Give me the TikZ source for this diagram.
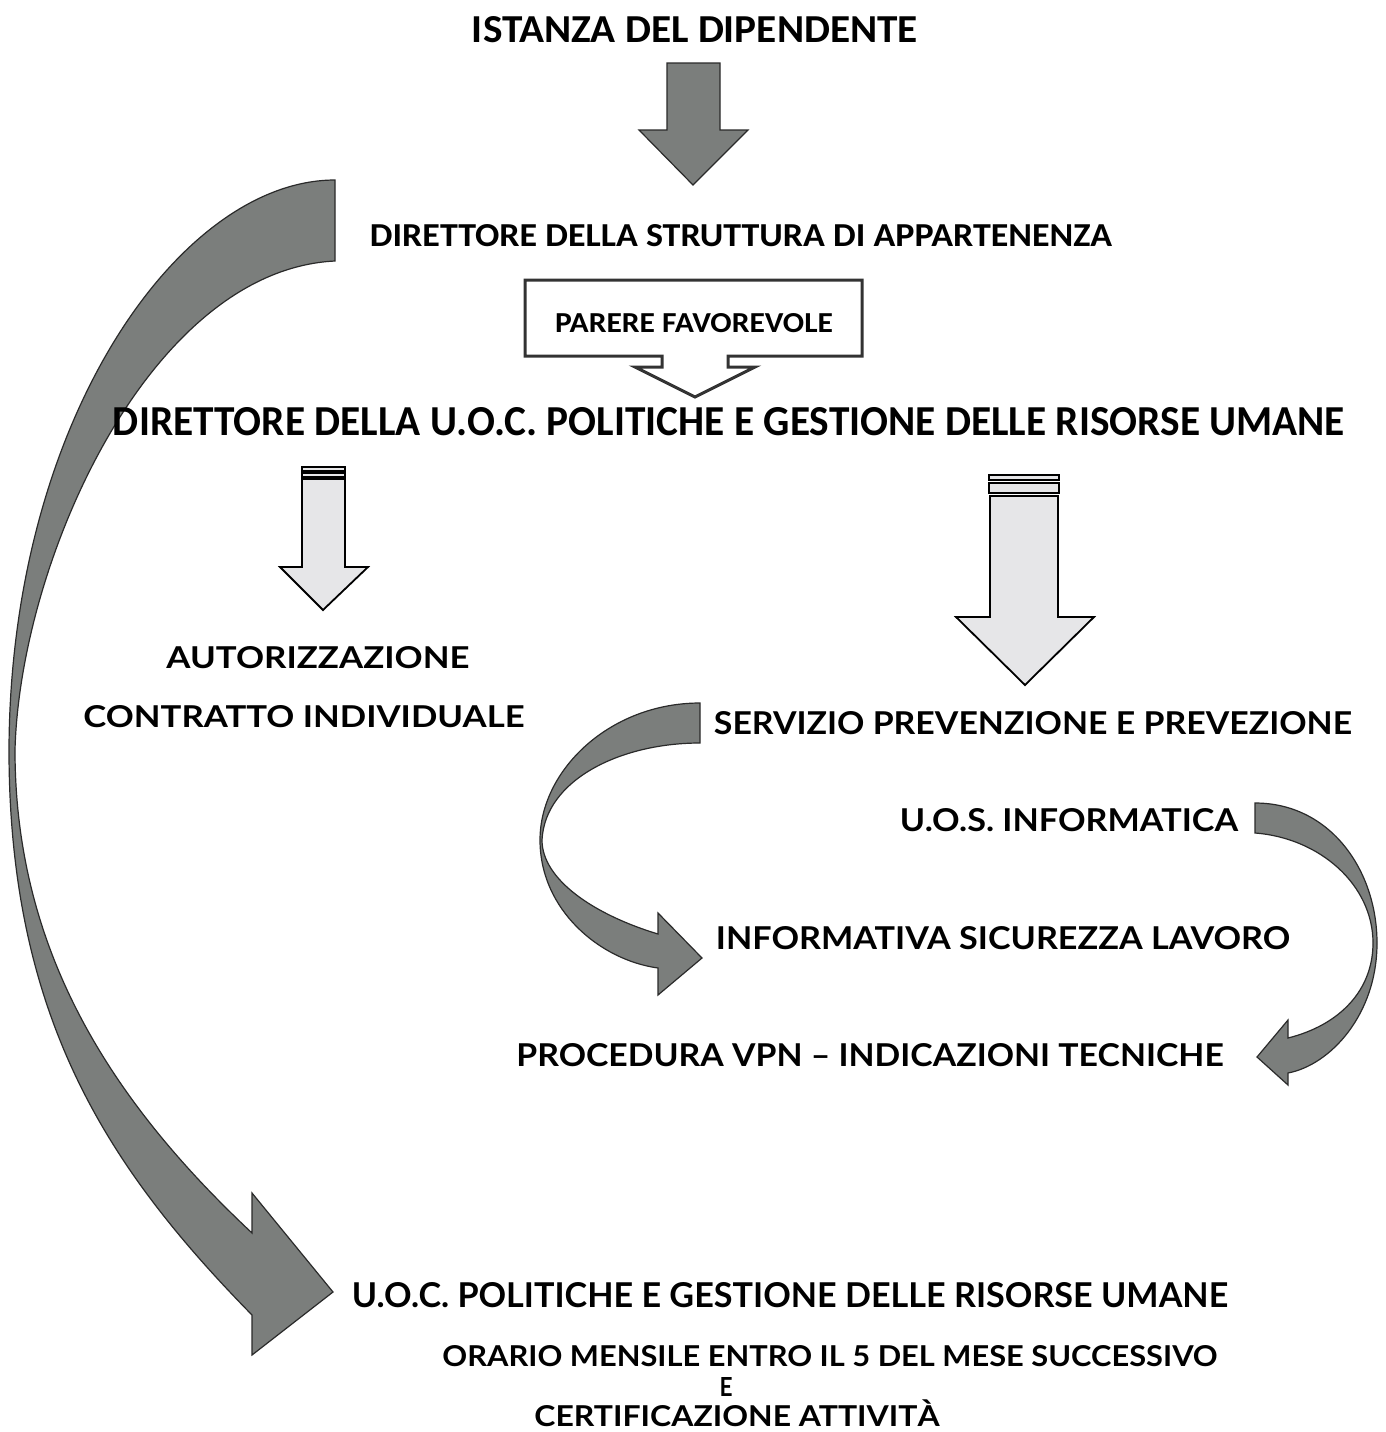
\documentclass[tikz,border=0pt]{standalone}
\usepackage{fontspec}
\usepackage{graphicx}
\setmainfont{Carlito}
\newfontfamily\gillfont{Lato}
\definecolor{arrowdark}{HTML}{7B7E7C}
\definecolor{edgedark}{HTML}{2A2A2A}
\definecolor{arrowlight}{HTML}{E6E6E8}
\definecolor{boxedge}{HTML}{333333}
\newcommand\fittext[3]{\resizebox{#1pt}{#2pt}{#3}}
\begin{document}
\begin{tikzpicture}[x=1pt,y=-1pt,
  txt/.style={inner sep=0pt,outer sep=0pt,text=black},
  darkarrow/.style={fill=arrowdark,draw=edgedark,line width=1.2pt,line join=miter},
  lightarrow/.style={fill=arrowlight,draw=black,line width=1.8pt,line join=miter},
  stripe/.style={fill=arrowlight,draw=black,line width=1.2pt},
  callout/.style={fill=white,draw=boxedge,line width=3pt,line join=miter},
  calibri/.style={font=\bfseries},
  gill/.style={font=\gillfont\bfseries}]
\useasboundingbox[fill=white] (0,0) rectangle (1386,1432);

% top dark arrow
\draw[darkarrow] (667,63) -- (720,63) -- (720,130) -- (748,130) -- (693,185) -- (639,130) -- (667,130) -- cycle;

% callout box with arrow
\draw[callout] (525,280) -- (862,280) -- (862,356) -- (728,356) -- (728,367) -- (755,367) -- (695,397) -- (635,367) -- (662,367) -- (662,356) -- (525,356) -- cycle;

% left hollow arrow
\draw[stripe] (302,467) rectangle (345,471);
\draw[stripe] (302,473) rectangle (345,477);
\draw[lightarrow] (302,479) -- (345,479) -- (345,567) -- (368,567) -- (323,610) -- (280,567) -- (302,567) -- cycle;

% right hollow arrow
\draw[stripe] (989,475) rectangle (1059,480);
\draw[stripe] (989,483) rectangle (1059,493);
\draw[lightarrow] (990,496) -- (1058,496) -- (1058,617) -- (1094,617) -- (1025,685) -- (956,617) -- (990,617) -- cycle;

% big left curved arrow
\draw[darkarrow] (335,180) .. controls (180,180) and (10,420) .. (9,750)
  .. controls (9,1020) and (110,1170) .. (252,1315)
  -- (252,1355) -- (333,1292) -- (252,1193) -- (252,1233)
  .. controls (110,1100) and (15,950) .. (15,750)
  .. controls (20,560) and (150,270) .. (335,261)
  -- cycle;

% middle curved arrow
\draw[darkarrow] (700,703) .. controls (610,703) and (540,770) .. (540,840)
  .. controls (540,910) and (600,960) .. (658,968)
  -- (658,995) -- (702,958) -- (658,913) -- (658,934)
  .. controls (595,915) and (542,880) .. (542,840)
  .. controls (545,780) and (620,743) .. (700,743)
  -- cycle;

% right curved arrow
\draw[darkarrow] (1255,803) .. controls (1330,803) and (1377,870) .. (1377,943)
  .. controls (1377,1015) and (1330,1065) .. (1288,1073)
  -- (1288,1085) -- (1257,1057) -- (1288,1020) -- (1288,1038)
  .. controls (1340,1025) and (1373,990) .. (1373,943)
  .. controls (1373,885) and (1320,838) .. (1255,833)
  -- cycle;

% texts
\node[txt,calibri] (istanza) at (695,30) {\fittext{446}{26}{ISTANZA DEL DIPENDENTE}};
\node[txt,calibri] (dirstr) at (741,236) {\fittext{742}{22}{DIRETTORE DELLA STRUTTURA DI APPARTENENZA}};
\node[txt,calibri] (parere) at (694,323) {\fittext{278}{19}{PARERE FAVOREVOLE}};
\node[txt,calibri] (diruoc) at (729,422) {\fittext{1232}{28}{DIRETTORE DELLA U.O.C. POLITICHE E GESTIONE DELLE RISORSE UMANE}};
\node[txt,gill] (autor) at (318,658) {\fittext{303}{22}{AUTORIZZAZIONE}};
\node[txt,gill] (contr) at (304,717) {\fittext{441}{22}{CONTRATTO INDIVIDUALE}};
\node[txt,gill] (serv) at (1033,723) {\fittext{638}{23}{SERVIZIO PREVENZIONE E PREVEZIONE}};
\node[txt,gill] (uos) at (1069,820) {\fittext{338}{23}{U.O.S. INFORMATICA}};
\node[txt,gill] (info) at (1003,938) {\fittext{574}{23}{INFORMATIVA SICUREZZA LAVORO}};
\node[txt,gill] (vpn) at (870,1055) {\fittext{707}{23}{PROCEDURA VPN – INDICAZIONI TECNICHE}};
\node[txt,gill] (uoc) at (790,1295) {\fittext{876}{25}{U.O.C. POLITICHE E GESTIONE DELLE RISORSE UMANE}};
\node[txt,gill] (orario) at (830,1356) {\fittext{775}{21}{ORARIO MENSILE ENTRO IL 5 DEL MESE SUCCESSIVO}};
\node[txt,gill] (econg) at (726,1387) {\fittext{13}{19}{E}};
\node[txt,gill] (cert) at (737,1416) {\fittext{405}{21}{CERTIFICAZIONE ATTIVIT\smash{À}}};
\end{tikzpicture}
\end{document}
